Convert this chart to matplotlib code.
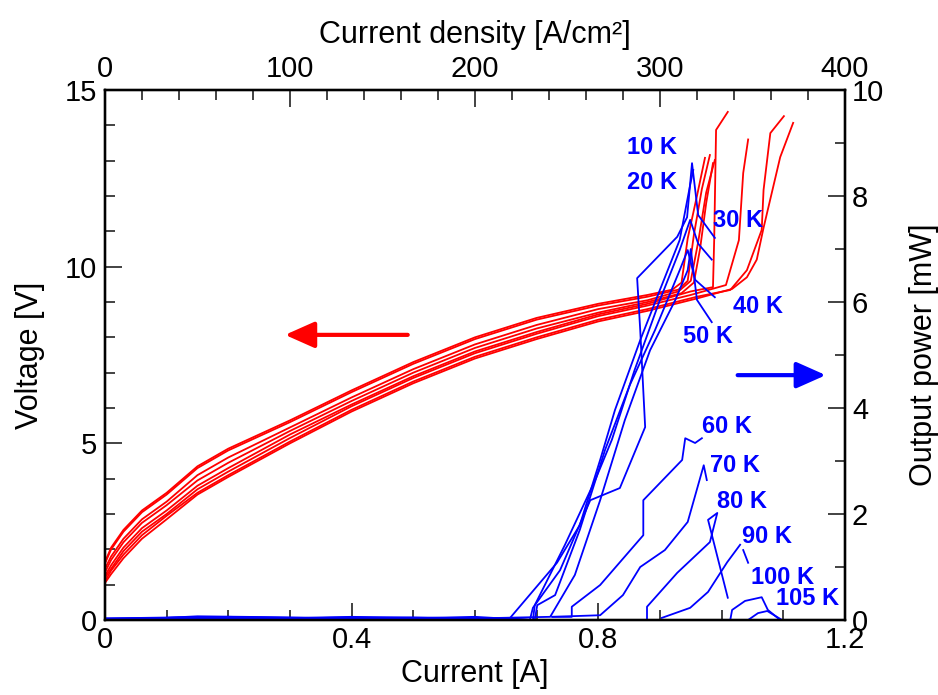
import matplotlib
matplotlib.use("Agg")
import matplotlib.pyplot as plt
from matplotlib.ticker import MultipleLocator, FuncFormatter

plt.rcParams['font.family'] = ['Liberation Sans', 'DejaVu Sans']

# =========================
# DATA
# =========================
# red I-V curves: common lower part, then each curve has its own tail
iv_current = [0, 0.01, 0.03, 0.06, 0.1, 0.15, 0.2, 0.3, 0.4, 0.5, 0.6, 0.7, 0.8, 0.88]
iv_voltage = [
    [1.64, 2.05, 2.55, 3.10, 3.60, 4.35, 4.85, 5.65, 6.50, 7.30, 8.00, 8.55, 8.95, 9.20],
    [1.60, 2.00, 2.50, 3.05, 3.55, 4.30, 4.80, 5.60, 6.45, 7.25, 7.95, 8.50, 8.90, 9.15],
    [1.45, 1.80, 2.30, 2.85, 3.35, 4.10, 4.60, 5.45, 6.30, 7.10, 7.80, 8.35, 8.80, 9.05],
    [1.35, 1.70, 2.20, 2.75, 3.25, 3.95, 4.45, 5.35, 6.20, 7.00, 7.70, 8.25, 8.70, 9.00],
    [1.25, 1.55, 2.05, 2.60, 3.10, 3.80, 4.30, 5.25, 6.10, 6.90, 7.60, 8.15, 8.65, 8.95],
    [1.20, 1.45, 1.95, 2.50, 3.00, 3.70, 4.20, 5.15, 6.05, 6.85, 7.55, 8.10, 8.60, 8.90],
    [1.10, 1.40, 1.85, 2.40, 2.95, 3.60, 4.10, 5.05, 5.95, 6.75, 7.45, 8.00, 8.50, 8.80],
    [1.05, 1.30, 1.75, 2.30, 2.85, 3.55, 4.05, 5.00, 5.90, 6.70, 7.40, 7.95, 8.45, 8.75],
]
tail_current = [
    [0.92, 0.935, 0.945, 0.96, 0.973],
    [0.93, 0.945, 0.955, 0.968, 0.981],
    [0.93, 0.95, 0.962, 0.975, 0.989],
    [0.935, 0.955, 0.965, 0.975, 0.986],
    [0.95, 0.986, 0.988, 0.991, 1.01],
    [0.95, 1.007, 1.028, 1.035, 1.043],
    [0.96, 1.014, 1.041, 1.065, 1.068, 1.079, 1.101],
    [0.96, 1.017, 1.041, 1.057, 1.068, 1.095, 1.116],
]
tail_voltage = [
    [9.35, 9.55, 10.8, 12.0, 13.08],
    [9.35, 9.6, 10.9, 12.2, 13.16],
    [9.3, 9.6, 10.7, 12.1, 13.02],
    [9.25, 9.55, 10.5, 11.8, 12.93],
    [9.3, 9.42, 10.8, 13.87, 14.38],
    [9.2, 9.48, 10.75, 12.65, 13.6],
    [9.15, 9.34, 9.9, 11.04, 12.17, 13.78, 14.26],
    [9.1, 9.37, 9.7, 10.2, 11.1, 13.1, 14.07],
]

# blue L-I curves (current [A], output power [mW])
nan = float('nan')
li_10k_i = [0, 0.08, 0.15, 0.3, 0.45, 0.6, 0.689, 0.694, 0.738, 0.787, 0.835, 0.876, 0.868, 0.863, 0.928, 0.944, 0.952, 0.962, 0.989]
li_10k_p = [0.02, 0.03, 0.07, 0.05, 0.02, 0.06, 0.0, 0.23, 0.94, 2.26, 2.49, 3.64, 5.47, 6.45, 7.23, 7.60, 8.62, 7.64, 7.21]
li_20k_i = [0, 0.12, 0.25, 0.4, 0.55, 0.657, 0.733, 0.770, 0.803, 0.827, 0.868, 0.900, 0.932, 0.949, 0.954]
li_20k_p = [0.03, 0.05, 0.02, 0.06, 0.03, 0.04, 1.08, 1.79, 3.02, 3.96, 5.28, 6.23, 7.17, 8.21, 8.49]
li_30k_i = [0, 0.1, 0.2, 0.35, 0.5, 0.65, 0.694, 0.697, 0.746, 0.795, 0.822, 0.859, 0.900, 0.932, 0.949, 0.962, 0.984]
li_30k_p = [0.01, 0.04, 0.06, 0.03, 0.05, 0.02, 0.0, 0.28, 1.42, 2.64, 3.40, 4.72, 6.04, 6.98, 7.55, 7.1, 6.8]
li_40k_i = [0, 0.15, 0.3, 0.5, 0.65, 0.697, 0.701, 0.730, 0.770, 0.811, 0.851, 0.892, 0.932, 0.945, 0.957, 0.989]
li_40k_p = [0.02, 0.05, 0.03, 0.04, 0.03, 0.0, 0.28, 0.47, 1.70, 3.21, 4.43, 5.47, 6.60, 6.98, 6.42, 6.09]
li_50k_i = [0, 0.2, 0.4, 0.6, 0.722, 0.762, 0.803, 0.843, 0.884, 0.925, 0.945, 0.950, 0.960, 0.984]
li_50k_p = [0.03, 0.02, 0.05, 0.03, 0.06, 0.85, 2.26, 3.77, 5.09, 6.04, 6.60, 7.0, 6.04, 5.62]
li_60k_i = [0.725, 0.757, 0.757, 0.803, 0.873, 0.873, 0.936, 0.941, 0.957, 0.968]
li_60k_p = [0.06, 0.06, 0.25, 0.66, 1.60, 2.26, 3.02, 3.43, 3.34, 3.43]
li_70k_i = [0.726, 0.803, 0.840, 0.868, 0.908, 0.945, 0.971, 0.976]
li_70k_p = [0.06, 0.09, 0.47, 1.00, 1.32, 1.85, 2.92, 2.64]
li_80k_i = [0.879, 0.879, 0.928, 0.981, 0.993, 0.978, 1.010]
li_80k_p = [0.0, 0.25, 0.89, 1.47, 2.02, 1.89, 0.42]
li_90k_i = [0.903, 0.949, 0.978, 1.009, 1.030, 1.032, 1.035, 1.043]
li_90k_p = [0.04, 0.23, 0.53, 1.09, 1.42, nan, 1.32, 1.08]
li_100k_i = [1.014, 1.017, 1.038, 1.065, 1.075, 1.095]
li_100k_p = [0.0, 0.19, 0.36, 0.43, 0.19, 0.0]
li_105k_i = [1.043, 1.059, 1.074, 1.098]
li_105k_p = [0.0, 0.13, 0.17, 0.0]

temps = ['10 K', '20 K', '30 K', '40 K', '50 K', '60 K', '70 K', '80 K', '90 K', '100 K', '105 K']

# =========================
# PLOT
# =========================
fig = plt.figure(figsize=(9.38, 6.95), dpi=100)
ax = fig.add_axes([0.1119, 0.1079, 0.7889, 0.7626])
ax2 = ax.twinx()
ax3 = ax.twiny()

for k in range(len(iv_voltage)):
    ax.plot(iv_current + tail_current[k], iv_voltage[k] + tail_voltage[k],
            color='#ff0000', lw=1.3)

li_curves = [
    (li_10k_i, li_10k_p), (li_20k_i, li_20k_p), (li_30k_i, li_30k_p),
    (li_40k_i, li_40k_p), (li_50k_i, li_50k_p), (li_60k_i, li_60k_p),
    (li_70k_i, li_70k_p), (li_80k_i, li_80k_p), (li_90k_i, li_90k_p),
    (li_100k_i, li_100k_p), (li_105k_i, li_105k_p),
]
for xs, ys in li_curves:
    ax2.plot(xs, ys, color='#0000ff', lw=1.3)

# temperature labels (placed in data coords of the right axis)
label_pos = [(0.887, 8.91), (0.887, 8.26), (1.027, 7.53), (1.059, 5.92),
             (0.978, 5.34), (1.009, 3.66), (1.022, 2.91), (1.033, 2.23),
             (1.074, 1.58), (1.099, 0.81), (1.140, 0.40)]
for name, (x, y) in zip(temps, label_pos):
    ax2.text(x, y, name, color='#0000ff', fontsize=17, fontweight='bold',
             ha='center', va='center')

# arrows
ax.annotate('', xy=(0.292, 8.07), xytext=(0.491, 8.07),
            arrowprops=dict(arrowstyle='-|>,head_length=0.9,head_width=0.4',
                            color='#ff0000', lw=3, mutation_scale=20,
                            shrinkA=0, shrinkB=0))
ax2.annotate('', xy=(1.169, 4.62), xytext=(1.026, 4.62),
             arrowprops=dict(arrowstyle='-|>,head_length=0.9,head_width=0.4',
                             color='#0000ff', lw=3, mutation_scale=20,
                             shrinkA=0, shrinkB=0))

ax.set_xlim(0, 1.2)
ax.set_ylim(0, 15)
ax2.set_ylim(0, 10)
ax3.set_xlim(0, 400)

ax.xaxis.set_major_locator(MultipleLocator(0.4))
ax.xaxis.set_minor_locator(MultipleLocator(0.1))
ax.yaxis.set_major_locator(MultipleLocator(5))
ax.yaxis.set_minor_locator(MultipleLocator(1))
ax2.yaxis.set_major_locator(MultipleLocator(2))
ax2.yaxis.set_minor_locator(MultipleLocator(1))
ax3.xaxis.set_major_locator(MultipleLocator(100))
ax3.xaxis.set_minor_locator(MultipleLocator(20))

ax.xaxis.set_major_formatter(FuncFormatter(lambda v, p: '0' if v == 0 else f'{v:.1f}'))
ax.yaxis.set_major_formatter(FuncFormatter(lambda v, p: f'{v:.0f}'))
ax2.yaxis.set_major_formatter(FuncFormatter(lambda v, p: f'{v:.0f}'))
ax3.xaxis.set_major_formatter(FuncFormatter(lambda v, p: f'{v:.0f}'))

for a in (ax, ax2, ax3):
    a.tick_params(which='both', direction='in', labelsize=21, width=1.2, color='#222222')
    a.tick_params(which='major', length=12)
    a.tick_params(which='minor', length=7)
    for s in a.spines.values():
        s.set_linewidth(1.6)
ax.tick_params(axis='x', pad=4)
ax.tick_params(axis='y', pad=6)
ax2.tick_params(axis='y', pad=5)
ax3.tick_params(axis='x', pad=5)

ax.set_xlabel('Current [A]', fontsize=22, labelpad=4)
ax.set_ylabel('Voltage [V]', fontsize=22, labelpad=14)
ax2.set_ylabel('Output power [mW]', fontsize=22, labelpad=18)
ax3.set_xlabel('Current density [A/cm²]', fontsize=22, labelpad=9)

fig.savefig('out.png', dpi=100)
